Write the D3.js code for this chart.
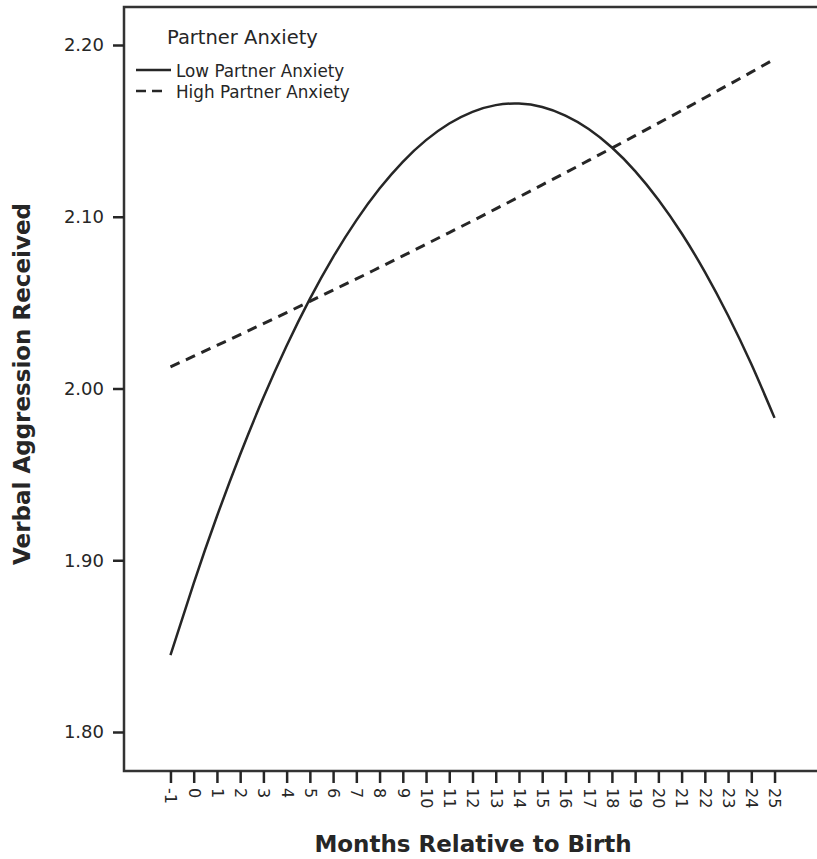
<!DOCTYPE html>
<html>
<head>
<meta charset="utf-8">
<script src="https://cdn.jsdelivr.net/npm/d3@7"></script>
<style>
  html, body { margin: 0; padding: 0; background: #fff; }
  svg { display: block; font-family: "DejaVu Sans", Verdana, sans-serif; }
</style>
</head>
<body>
<svg id="chart" width="817" height="859"></svg>
<script>
// Months relative to birth (x axis categories)
const months = [-1, 0, 1, 2, 3, 4, 5, 6, 7, 8, 9, 10, 11, 12, 13, 14, 15, 16, 17, 18, 19, 20, 21, 22, 23, 24, 25];

// Predicted verbal aggression received
const lowAnxiety = [1.8447, 1.8866, 1.9256, 1.9616, 1.9947, 2.0249, 2.0522, 2.0765, 2.0979, 2.1164, 2.1320, 2.1446, 2.1543,
                    2.1611, 2.1650, 2.1659, 2.1639, 2.1589, 2.1511, 2.1403, 2.1266, 2.1099, 2.0904, 2.0679, 2.0425, 2.0142, 1.9829];
const highAnxiety = [2.0126, 2.0188, 2.0251, 2.0314, 2.0378, 2.0442, 2.0507, 2.0573, 2.0638, 2.0705, 2.0772, 2.0840, 2.0908,
                     2.0976, 2.1046, 2.1115, 2.1186, 2.1256, 2.1328, 2.1400, 2.1472, 2.1545, 2.1618, 2.1693, 2.1767, 2.1842, 2.1918];

const yTicks = [1.80, 1.90, 2.00, 2.10, 2.20];
const seriesNames = ['Low Partner Anxiety', 'High Partner Anxiety'];
const legendTitle = 'Partner Anxiety';

const ink = '#262626';
const svg = d3.select('#chart');

// plot frame (right edge runs just past the picture, as in the original)
const frame = { left: 124, top: 7, right: 821, bottom: 771 };

const x = d3.scaleLinear().domain([-3, 27]).range([frame.left, frame.right]);
const y = d3.scaleLinear().domain([1.80, 2.20]).range([732, 45]);

svg.append('rect')
    .attr('x', frame.left)
    .attr('y', frame.top)
    .attr('width', frame.right - frame.left)
    .attr('height', frame.bottom - frame.top)
    .attr('fill', 'none')
    .attr('stroke', '#333')
    .attr('stroke-width', 2.5);

// Y axis
const yAxis = svg.append('g')
    .attr('transform', `translate(${frame.left},0)`)
    .call(d3.axisLeft(y).tickValues(yTicks).tickFormat(d3.format('.2f')).tickSize(11).tickPadding(9));
yAxis.select('.domain').remove();
yAxis.selectAll('line').attr('stroke', ink).attr('stroke-width', 2.5);
yAxis.selectAll('text').attr('fill', ink).attr('font-size', '18px').attr('font-family', '"DejaVu Sans", sans-serif');

// X axis with rotated month labels
const xAxis = svg.append('g')
    .attr('transform', `translate(0,${frame.bottom})`)
    .call(d3.axisBottom(x).tickValues(months).tickFormat(d3.format('d')).tickSize(12));
xAxis.select('.domain').remove();
xAxis.selectAll('line').attr('stroke', ink).attr('stroke-width', 2.5);
xAxis.selectAll('text')
    .attr('fill', ink)
    .attr('font-size', '16px')
    .attr('font-family', '"DejaVu Sans", sans-serif')
    .attr('transform', 'rotate(90)')
    .attr('x', 17)
    .attr('y', 0)
    .attr('dy', '0.35em')
    .style('text-anchor', 'start')
    .text(d => d < 0 ? '-' + Math.abs(d) : d);

// Lines
const line = d3.line()
    .x(d => x(d[0]))
    .y(d => y(d[1]))
    .curve(d3.curveNatural);

svg.append('path')
    .datum(months.map((m, i) => [m, lowAnxiety[i]]))
    .attr('d', line)
    .attr('fill', 'none')
    .attr('stroke', ink)
    .attr('stroke-width', 2.5);

svg.append('path')
    .datum(months.map((m, i) => [m, highAnxiety[i]]))
    .attr('d', line)
    .attr('fill', 'none')
    .attr('stroke', ink)
    .attr('stroke-width', 3)
    .attr('stroke-dasharray', '10,7');

// Legend
const legend = svg.append('g');
legend.append('text')
    .attr('x', 167).attr('y', 44)
    .attr('fill', ink)
    .attr('font-size', '19.5px')
    .text(legendTitle);

const items = legend.selectAll('.item')
    .data(seriesNames)
    .enter().append('g')
    .attr('transform', (d, i) => `translate(0,${70 + i * 21})`);

items.append('line')
    .attr('x1', 136).attr('x2', d => d === seriesNames[0] ? 171 : 164)
    .attr('y1', 0).attr('y2', 0)
    .attr('stroke', ink)
    .attr('stroke-width', 2.5)
    .attr('stroke-dasharray', (d, i) => i === 1 ? '10,6' : null);

items.append('text')
    .attr('x', 176).attr('y', 7)
    .attr('fill', ink)
    .attr('font-size', '16.8px')
    .text(d => d);

// Axis titles
svg.append('text')
    .attr('x', 473).attr('y', 852)
    .attr('text-anchor', 'middle')
    .attr('fill', ink)
    .attr('font-size', '23px')
    .attr('font-weight', 'bold')
    .text('Months Relative to Birth');

svg.append('text')
    .attr('transform', 'translate(30,384) rotate(-90)')
    .attr('text-anchor', 'middle')
    .attr('fill', ink)
    .attr('font-size', '23px')
    .attr('font-weight', 'bold')
    .text('Verbal Aggression Received');
</script>
</body>
</html>
